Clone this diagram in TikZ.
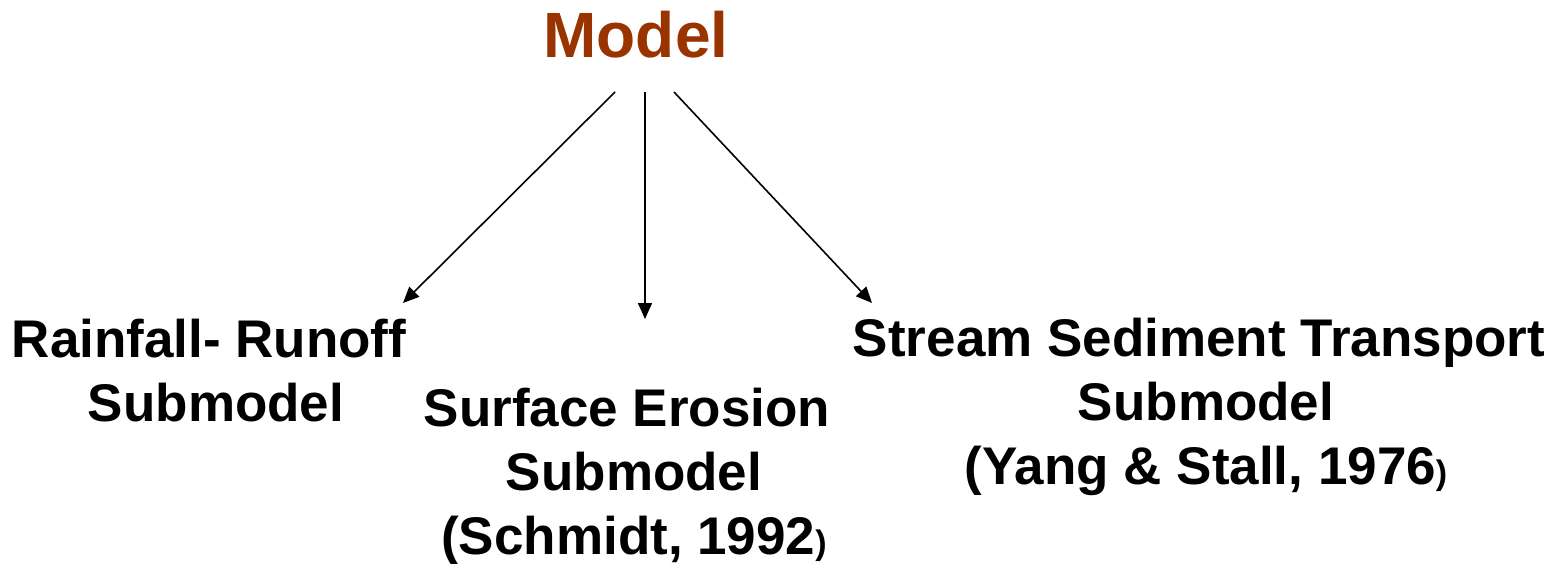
\documentclass[tikz,border=0pt]{standalone}
\usepackage{fontspec}
\setmainfont{Liberation Sans}
\usetikzlibrary{arrows.meta}
\definecolor{modelred}{HTML}{993300}
\newcommand{\smallparen}{{\fontsize{34}{34}\selectfont)}}
\newcommand{\trailsp}{\rule{14pt}{0pt}}
\begin{document}
\begin{tikzpicture}[x=1pt,y=-1pt,
  lbl/.style={font=\bfseries\fontsize{53}{64}\selectfont, align=center, inner sep=0pt, anchor=base},
  conn/.style={-{Triangle[length=16pt,width=14pt]}, line width=1.6pt, black}]
\useasboundingbox (0,0) rectangle (1567,564);
\node[font=\bfseries\fontsize{64}{64}\selectfont, text=modelred, inner sep=0pt, anchor=base] (model) at (636,58) {Model};
\node[lbl] (rain) at (216,421) {Rainfall- Runoff\trailsp\\Submodel};
\node[lbl] (surf) at (634,554) {Surface Erosion\trailsp\\Submodel\\(Schmidt, 1992\smallparen};
\node[lbl] (stream) at (1206,484) {Stream Sediment Transport\trailsp\\Submodel\\(Yang \& Stall, 1976\smallparen};
\coordinate (s1) at (615,92);
\coordinate (s2) at (645,92);
\coordinate (s3) at (674,92);
\coordinate (e1) at (403,303);
\coordinate (e2) at (645,319);
\coordinate (e3) at (872,303);
\draw[conn] (s1) -- (e1);
\draw[conn] (s2) -- (e2);
\draw[conn] (s3) -- (e3);
\end{tikzpicture}
\end{document}
